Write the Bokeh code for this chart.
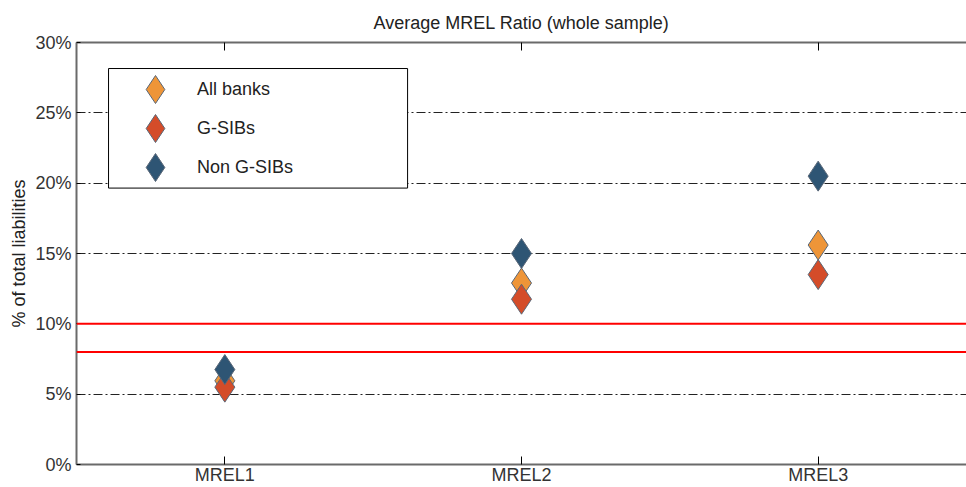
from bokeh.plotting import figure
from bokeh.models import (FactorRange, Range1d, FixedTicker, CategoricalAxis, Span,
                          BoxAnnotation, Legend, LegendItem)
from bokeh.embed import file_html
from bokeh.resources import INLINE

categories = ["MREL1", "MREL2", "MREL3"]
all_banks = [5.95, 12.9, 15.6]
gsibs = [5.5, 11.75, 13.5]
non_gsibs = [6.75, 15.0, 20.5]
series_names = ["All banks", "G-SIBs", "Non G-SIBs"]
y_ticks = [0, 5, 10, 15, 20, 25, 30]
y_tick_labels = ["0%", "5%", "10%", "15%", "20%", "25%", "30%"]
thresholds = [10, 8]

FONT = "Liberation Sans"
colors = ["#EE9538", "#D44C29", "#2E5574"]

W, H = 966, 487
BL, BT, BB = 76, 41, 23

p = figure(width=W, height=H, output_backend="svg", toolbar_location=None,
           x_range=FactorRange(*categories, range_padding=0),
           y_range=Range1d(0, 30),
           min_border_left=BL, min_border_right=0, min_border_top=BT, min_border_bottom=BB,
           title="Average MREL Ratio (whole sample)")
p.outline_line_color = None
p.background_fill_color = "white"

p.title.align = "center"
p.title.text_font = FONT
p.title.text_font_size = "18px"
p.title.text_font_style = "normal"
p.title.text_color = "#222222"
p.title.standoff = 20

xax = p.xaxis[0]
xax.axis_line_color = "#6a6a6a"
xax.axis_line_width = 2
xax.major_tick_in = 8
xax.major_tick_out = 0
xax.major_tick_line_color = "black"
xax.major_label_text_font = FONT
xax.major_label_text_font_size = "18px"
xax.major_label_text_color = "#333333"
xax.major_label_standoff = 0
xax.minor_tick_line_color = None

top_ax = CategoricalAxis(major_label_text_font_size="0px", major_label_standoff=0,
                         major_tick_in=8, major_tick_out=0, major_tick_line_color="black",
                         axis_line_color="#6a6a6a", axis_line_width=2,
                         major_label_text_alpha=0)
p.add_layout(top_ax, "above")

yax = p.yaxis[0]
yax.ticker = FixedTicker(ticks=y_ticks)
yax.major_label_overrides = {t: l for t, l in zip(y_ticks, y_tick_labels)}
yax.axis_line_color = "#6a6a6a"
yax.axis_line_width = 2
yax.major_tick_in = 4
yax.major_tick_out = 0
yax.major_tick_line_color = "black"
yax.minor_tick_line_color = None
yax.major_label_text_font = FONT
yax.major_label_text_font_size = "18px"
yax.major_label_text_color = "#333333"
yax.major_label_standoff = 5
yax.axis_label = "% of total liabilities"
yax.axis_label_text_font = FONT
yax.axis_label_text_font_size = "18px"
yax.axis_label_text_font_style = "normal"
yax.axis_label_text_color = "#222222"
yax.axis_label_standoff = 3

p.xgrid.visible = False
p.ygrid.ticker = FixedTicker(ticks=y_ticks)
p.ygrid.grid_line_color = "#222222"
p.ygrid.grid_line_width = 1
p.ygrid.grid_line_dash = "9 3 2 3"

for t in thresholds:
    p.add_layout(Span(location=t, dimension="width", line_color="#ff0000", line_width=2))

renderers = []
for vals, c in zip([all_banks, gsibs, non_gsibs], colors):
    r = p.scatter(x=categories, y=vals, marker="diamond", size=30,
                  fill_color=c, line_color="#5b6878", line_width=1)
    renderers.append(r)

box = BoxAnnotation(left=0.108, right=1.116, top=28.15, bottom=19.65,
                    fill_color="white", fill_alpha=1, line_color="black", line_alpha=1,
                    line_width=1, level="annotation")
p.add_layout(box)

# one legend per entry so that the markers keep their plotted size
frame_h = H - BT - BB
row_centres = [89 - BT, 128 - BT, 167 - BT]  # px below the frame top
for n, r, cy in zip(series_names, renderers, row_centres):
    lg = Legend(items=[LegendItem(label=n, renderers=[r])],
                location=(155 - 35 - BL, frame_h - cy - 35), margin=0, padding=0,
                glyph_height=70, glyph_width=70, label_height=70, label_standoff=7,
                background_fill_alpha=0, border_line_alpha=0,
                label_text_font=FONT, label_text_font_size="18px", label_text_color="#222222")
    p.add_layout(lg)

open("out.html", "w").write(file_html(p, INLINE))
